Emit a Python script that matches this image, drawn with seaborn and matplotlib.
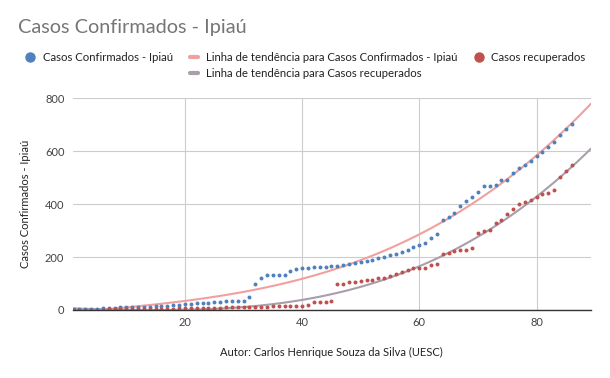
import numpy as np
import pandas as pd
import matplotlib
matplotlib.use('Agg')
import matplotlib.pyplot as plt
from matplotlib.lines import Line2D
import seaborn as sns

# --------------------------------------------------------------------------
# Dados
# --------------------------------------------------------------------------
dias = list(range(1, 87))

casos_confirmados = [
    2, 2, 3, 3, 4, 8, 9, 9, 10, 10,
    11, 12, 12, 13, 14, 15, 16, 18, 20, 22,
    24, 26, 27, 28, 30, 32, 33, 34, 34, 35,
    50, 98, 120, 132, 132, 132, 133, 148, 155, 158,
    160, 161, 162, 163, 166, 168, 170, 172, 177, 180,
    185, 190, 195, 200, 207, 212, 220, 226, 239, 245,
    253, 272, 286, 340, 352, 367, 392, 413, 428, 447,
    468, 468, 472, 493, 493, 518, 535, 547, 563, 581,
    597, 616, 634, 660, 684, 704,
]

casos_recuperados = [
    0, 0, 0, 0, 1, 1, 2, 2, 2, 3,
    3, 3, 4, 4, 4, 5, 5, 5, 6, 6,
    7, 7, 8, 8, 9, 9, 10, 10, 11, 11,
    12, 12, 13, 13, 14, 14, 14, 15, 15, 15,
    20, 31, 31, 31, 35, 97, 97, 107, 107, 110,
    112, 115, 120, 122, 128, 135, 145, 152, 157, 160,
    157, 169, 173, 211, 214, 223, 225, 228, 236, 292,
    300, 304, 327, 340, 361, 380, 402, 409, 415, 428,
    437, 443, 453, 501, 526, 547,
]

df = pd.DataFrame({
    'dia': dias,
    'confirmados': casos_confirmados,
    'recuperados': casos_recuperados,
})

TITULO = 'Casos Confirmados - Ipiaú'
ROTULO_Y = 'Casos Confirmados - Ipiaú'
ROTULO_X = 'Autor: Carlos Henrique Souza da Silva (UESC)'
LEGENDAS = [
    'Casos Confirmados - Ipiaú',
    'Linha de tendência para Casos Confirmados - Ipiaú',
    'Linha de tendência para Casos recuperados',
    'Casos recuperados',
]

AZUL = '#4f81bd'
VERMELHO = '#c0504d'
ROSA = '#f2a09e'
CINZA = '#a99eab'

# --------------------------------------------------------------------------
# Estilo
# --------------------------------------------------------------------------
sns.set_style('white')
plt.rcParams['font.family'] = ['Lato', 'DejaVu Sans']

fig = plt.figure(figsize=(6.1, 3.78), dpi=100)
ax = fig.add_axes([0.1192, 0.1799, 0.9689 - 0.1192, 0.740 - 0.1799])
ax.set_xlim(0.85, 89.3)
ax.set_ylim(0, 800)

# linhas de tendência (polinomial) calculadas a partir dos dados
sns.regplot(data=df, x='dia', y='confirmados', order=3, ci=None, scatter=False,
            truncate=False, ax=ax, line_kws={'color': ROSA, 'lw': 1.5, 'zorder': 2})
sns.regplot(data=df, x='dia', y='recuperados', order=3, ci=None, scatter=False,
            truncate=False, ax=ax, line_kws={'color': CINZA, 'lw': 1.5, 'zorder': 2})

sns.scatterplot(data=df, x='dia', y='confirmados', ax=ax, color=AZUL, s=8,
                linewidth=0, zorder=3)
sns.scatterplot(data=df, x='dia', y='recuperados', ax=ax, color=VERMELHO, s=8,
                linewidth=0, zorder=3)

ax.set_xlim(0.85, 89.3)
ax.set_ylim(0, 800)
ax.set_xticks([20, 40, 60, 80])
ax.set_yticks([0, 200, 400, 600, 800])
ax.grid(True, color='#cccccc', lw=0.8)
ax.set_axisbelow(True)
for s in ['top', 'right', 'left']:
    ax.spines[s].set_visible(False)
ax.spines['bottom'].set_color('#333333')
ax.spines['bottom'].set_linewidth(1.0)
ax.spines['bottom'].set_zorder(4)
ax.tick_params(axis='both', length=0, labelsize=8, colors='#444444')
ax.tick_params(axis='y', pad=6)
ax.tick_params(axis='x', pad=5)

ax.set_xlabel(ROTULO_X, fontsize=8, color='#222222', labelpad=14)
ax.set_ylabel(ROTULO_Y, fontsize=8, color='#222222', labelpad=10)

fig.text(18 / 610, 1 - 27 / 378, TITULO, fontsize=14.3, color='#757575',
         ha='left', va='center')

# legenda: 3 colunas, a segunda com duas linhas
handles = [
    Line2D([], [], marker='o', linestyle='none', markersize=6.5, color=AZUL),
    Line2D([], [], linestyle='none'),
    Line2D([], [], color=ROSA, lw=3),
    Line2D([], [], color=CINZA, lw=3),
    Line2D([], [], marker='o', linestyle='none', markersize=6.5, color=VERMELHO),
]
labels = [LEGENDAS[0], '', LEGENDAS[1], LEGENDAS[2], LEGENDAS[3]]
fig.legend(handles, labels, loc='upper left', bbox_to_anchor=(26 / 610, 1 - 52 / 378),
           ncol=3, frameon=False, fontsize=8.2, handlelength=0.75, handletextpad=0.7,
           columnspacing=1.5, borderpad=0, borderaxespad=0, labelspacing=0.45,
           labelcolor='#222222')

fig.savefig('out.png', dpi=100)
